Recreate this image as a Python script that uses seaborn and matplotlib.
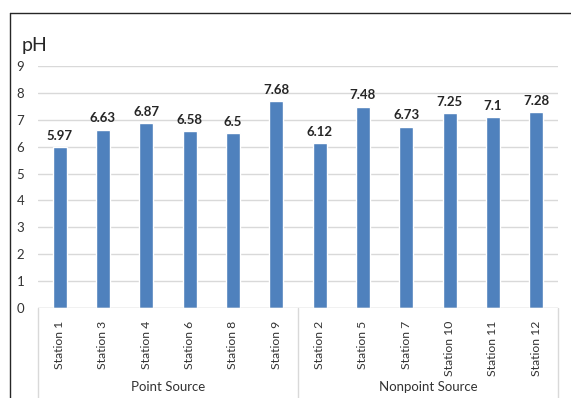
import numpy as np
import pandas as pd
import seaborn as sb
import matplotlib.pyplot as plt
from matplotlib.lines import Line2D

# data
stations = ['Station 1', 'Station 3', 'Station 4', 'Station 6', 'Station 8', 'Station 9',
            'Station 2', 'Station 5', 'Station 7', 'Station 10', 'Station 11', 'Station 12']
ph_values = [5.97, 6.63, 6.87, 6.58, 6.5, 7.68,
             6.12, 7.48, 6.73, 7.25, 7.1, 7.28]
groups = ['Point Source', 'Nonpoint Source']
group_sizes = [6, 6]
y_ticks = [0, 1, 2, 3, 4, 5, 6, 7, 8, 9]

df = pd.DataFrame({'station': stations, 'ph': ph_values})

sb.set_style('white')
plt.rcParams['font.family'] = ['Lato', 'DejaVu Sans']

W, H = 571, 398
fig = plt.figure(figsize=(W / 100, H / 100), dpi=100)

# plot area in pixel coords
left, right, top, bottom = 38, 558, 66, 308
ax = fig.add_axes([left / W, 1 - bottom / H, (right - left) / W, (bottom - top) / H])

sb.barplot(data=df, x='station', y='ph', color='#4F81BD', width=0.33,
           saturation=1, ax=ax, order=stations)

ax.set_ylim(0, 9)
ax.set_yticks(y_ticks)
ax.yaxis.grid(True, color='#D9D9D9', linewidth=1)
ax.set_axisbelow(True)
for s in ax.spines.values():
    s.set_visible(False)
ax.axhline(0, color='#D9D9D9', linewidth=1, zorder=1)

ax.set_xlabel('')
ax.set_ylabel('')
ax.tick_params(axis='y', length=0, labelsize=9.5, pad=10, colors='#333333')
ax.tick_params(axis='x', length=0, labelsize=8.8, pad=9, colors='#333333')
plt.setp(ax.get_xticklabels(), rotation=90, va='top')

# value labels
ax.bar_label(ax.containers[0], labels=[f'{v:g}' for v in ph_values],
             padding=4, fontsize=9.5, fontweight='bold', color='#262626')

# pH title
fig.text(22 / W, 1 - 45 / H, 'pH', fontsize=14, color='#262626', va='center', ha='left')

# category grouping box below the axis
def fx(px):
    return px / W

def fy(py):
    return 1 - py / H

n = len(stations)
slot = (right - left) / n
edges = [left]
for g in group_sizes:
    edges.append(edges[-1] + g * slot)
for e in edges:
    fig.add_artist(Line2D([fx(e), fx(e)], [fy(bottom), fy(H)], color='#D9D9D9', linewidth=1))

for i, g in enumerate(groups):
    mid = (edges[i] + edges[i + 1]) / 2
    fig.text(fx(mid), fy(387), g, ha='center', va='center', fontsize=9.5, color='#333333')

# outer frame
fig.add_artist(Line2D([fx(10), fx(571)], [fy(13), fy(13)], color='#262626', linewidth=1))
fig.add_artist(Line2D([fx(10), fx(10)], [fy(13), fy(H)], color='#262626', linewidth=1))

fig.savefig('out.png', dpi=100)
